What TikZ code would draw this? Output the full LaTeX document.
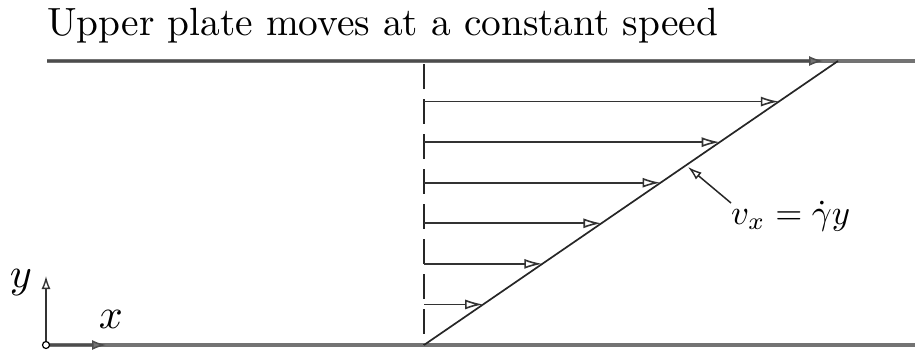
\documentclass[tikz,border=0pt]{standalone}
\usetikzlibrary{arrows.meta}
\begin{document}
\begin{tikzpicture}[x=1pt,y=-1pt,
  plate/.style={draw=black!55,line width=3.6pt},
  vel/.style={draw=black!80,line width=1.8pt,-{Latex[open,length=18pt,width=10pt,line width=1.6pt]}},
  platearrow/.style={draw=black!70,line width=1.4pt,-{Latex[open,length=14pt,width=10pt,line width=1.5pt]}},
  axis/.style={draw=black!80,line width=1.5pt,-{Latex[open,length=13pt,width=9pt,line width=1.4pt]}},
  lab/.style={inner sep=0pt}]
\useasboundingbox (0,0) rectangle (915,349);
% title
\node[lab,anchor=base west] (title) at (47,35) {\resizebox{671pt}{!}{Upper plate moves at a constant speed}};
% plates
\coordinate (tl) at (47,61);
\coordinate (tr) at (915,61);
\coordinate (ta) at (823,61);
\coordinate (bl) at (46,345);
\coordinate (br) at (915,345);
\coordinate (ba) at (106,345);
\draw[plate] (tl) -- (tr);
\draw[plate] (bl) -- (br);
\draw[platearrow] (tl) -- (ta);
\draw[platearrow] (bl) -- (ba);
% axes
\coordinate (ytip) at (46,276);
\draw[axis] (bl) -- (ytip);
\node[circle,draw=black,fill=white,line width=1.2pt,minimum size=7pt,inner sep=0pt] (origin) at (bl) {};
\node[lab,anchor=base] (ylab) at (21,287) {\scalebox{4.2}{$y$}};
\node[lab,anchor=base] (xlab) at (111,328) {\scalebox{4.2}{$x$}};
% dashed reference line
\coordinate (dtop) at (424,61);
\coordinate (dbot) at (424,345);
\draw[black!85,line width=1.7pt,dash pattern=on 25pt off 10pt,dash phase=-3pt] (dtop) -- (dbot);
% profile line
\coordinate (ptop) at (838,61);
\draw[black!85,line width=1.7pt] (dbot) -- (ptop);
% velocity arrows
\foreach \k in {1,...,6}{
  \pgfmathsetmacro{\yy}{345-40.57*\k}
  \pgfmathsetmacro{\xx}{424+(345-\yy)*1.4577}
  \coordinate (s\k) at (424,\yy);
  \coordinate (e\k) at (\xx,\yy);
  \draw[vel] (s\k) -- (e\k);
}
% label
\node[lab,anchor=base west] (eq) at (731,224) {\resizebox{119pt}{!}{$v_x = \dot\gamma y$}};
\coordinate (lstart) at (731,203);
\coordinate (lend) at (688,167);
\draw[draw=black!85,line width=1.5pt,-{Latex[open,length=14pt,width=9pt,line width=1.4pt]}] (lstart) -- (lend);
\end{tikzpicture}
\end{document}
